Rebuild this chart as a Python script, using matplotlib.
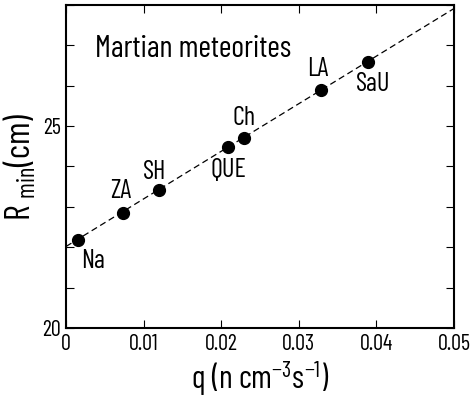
import matplotlib
matplotlib.use('Agg')
from matplotlib import pyplot as plt
from matplotlib.ticker import FixedLocator, MultipleLocator

plt.rcParams['font.family'] = ['Barlow Condensed', 'DejaVu Sans']
plt.rcParams['mathtext.fontset'] = 'custom'
plt.rcParams['mathtext.rm'] = 'Barlow Condensed'
plt.rcParams['mathtext.it'] = 'Barlow Condensed'

# meteorite data
names = ['Na', 'ZA', 'SH', 'QUE', 'Ch', 'LA', 'SaU']
q = [0.0015, 0.0073, 0.0120, 0.0209, 0.0229, 0.0329, 0.0389]
rmin = [22.18, 22.86, 23.41, 24.47, 24.71, 25.89, 26.59]
# label offsets in points (dx, dy)
offsets = [(11, -15), (-1.5, 15.5), (-3, 13), (0, -16), (0, 14), (-2.5, 15), (4, -16)]

# dashed fit line end points
line_q = [0.0, 0.05]
line_r = [22.02, 27.91]

xticks = [0, 0.01, 0.02, 0.03, 0.04, 0.05]
xticklabels = ['0', '0.01', '0.02', '0.03', '0.04', '0.05']
yticks = [20, 25]

fig = plt.figure(figsize=(4.72, 4.04), dpi=100)
ax = fig.add_axes([0.140, 0.188, 0.822, 0.800])

ax.plot(line_q, line_r, '--', color='black', lw=0.9, dashes=(5, 3))
ax.plot(q, rmin, 'o', color='black', ms=8.5)
for n, x, y, (dx, dy) in zip(names, q, rmin, offsets):
    ax.annotate(n, (x, y), xytext=(dx, dy), textcoords='offset points',
                ha='center', va='center', fontsize=19)

ax.text(0.0163, 26.9, 'Martian meteorites', ha='center', va='center', fontsize=22)

ax.set_xlim(0, 0.05)
ax.set_ylim(20, 28)
ax.xaxis.set_major_locator(FixedLocator(xticks))
ax.set_xticklabels(xticklabels)
ax.yaxis.set_major_locator(FixedLocator(yticks))
ax.yaxis.set_minor_locator(MultipleLocator(1))
ax.tick_params(which='both', direction='in', top=True, right=True,
               length=6, width=0.8, labelsize=16, pad=4)
for s in ax.spines.values():
    s.set_linewidth(1.5)

ax.set_xlabel('q (n cm$^{-3}$s$^{-1}$)', fontsize=23, labelpad=3)
ax.set_ylabel('R $_{\\mathrm{min}}$(cm)', fontsize=25, labelpad=3)

fig.savefig('out.png', dpi=100)
